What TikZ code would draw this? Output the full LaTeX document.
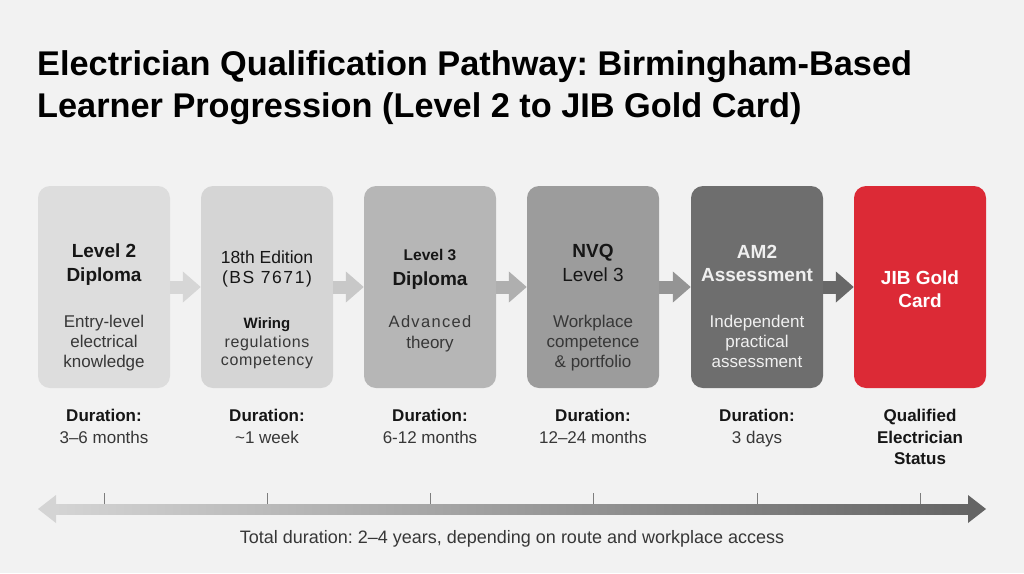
\documentclass[tikz,border=0pt]{standalone}
\usepackage{fontspec}
\setmainfont{Liberation Sans}
\usetikzlibrary{arrows.meta}
\definecolor{bg}{RGB}{242,242,242}
\definecolor{titc}{RGB}{22,22,22}
\definecolor{bodc}{RGB}{55,55,55}
\definecolor{boxa}{RGB}{221,221,221}
\definecolor{boxb}{RGB}{213,213,213}
\definecolor{boxc}{RGB}{182,182,182}
\definecolor{boxd}{RGB}{156,156,156}
\definecolor{boxe}{RGB}{110,110,110}
\definecolor{boxf}{RGB}{220,42,54}
\definecolor{arra}{RGB}{214,214,214}
\definecolor{arrb}{RGB}{200,200,200}
\definecolor{arrc}{RGB}{175,175,175}
\definecolor{arrd}{RGB}{148,148,148}
\definecolor{arre}{RGB}{104,104,104}
\definecolor{lighttxt}{RGB}{240,240,240}
\definecolor{tickc}{RGB}{125,125,125}
\definecolor{tll}{RGB}{212,212,212}
\definecolor{tlr}{RGB}{100,100,100}
\frenchspacing
\begin{document}
\begin{tikzpicture}[x=1pt,y=-1pt,
  stepbox/.style={draw=none, rounded corners=12pt, minimum width=132pt, minimum height=202pt, inner sep=0pt},
  flow/.style={line width=13pt, -{Triangle[length=18pt,width=30pt]}},
  hd/.style={anchor=base, inner sep=0pt, font=\fontsize{19}{19}\selectfont\bfseries, text=titc},
  bd/.style={anchor=base, inner sep=0pt, font=\fontsize{17}{17}\selectfont, text=bodc},
  dhd/.style={anchor=base, inner sep=0pt, font=\fontsize{17}{17}\selectfont\bfseries, text=titc},
  dbd/.style={anchor=base, inner sep=0pt, font=\fontsize{17}{17}\selectfont, text=bodc},
  ttl/.style={anchor=base west, inner sep=0pt, font=\fontsize{34.3}{34.3}\selectfont\bfseries, text=black},
  tick/.style={draw=tickc, line width=1pt}]
\useasboundingbox (0,0) rectangle (1024,573);
\fill[bg] (0,0) rectangle (1024,573);

% title
\node[ttl] (t1) at (37,75) {Electrician Qualification Pathway: Birmingham-Based};
\node[ttl] (t2) at (37,117) {Learner Progression (Level 2 to JIB Gold Card)};

% boxes
\node[stepbox, fill=boxa] (b1) at (104,287) {};
\node[stepbox, fill=boxb] (b2) at (267,287) {};
\node[stepbox, fill=boxc] (b3) at (430,287) {};
\node[stepbox, fill=boxd] (b4) at (593,287) {};
\node[stepbox, fill=boxe] (b5) at (757,287) {};
\node[stepbox, fill=boxf] (b6) at (920,287) {};

% connectors
\draw[flow, draw=arra, fill=arra] (b1) -- (b2);
\draw[flow, draw=arrb, fill=arrb] (b2) -- (b3);
\draw[flow, draw=arrc, fill=arrc] (b3) -- (b4);
\draw[flow, draw=arrd, fill=arrd] (b4) -- (b5);
\draw[flow, draw=arre, fill=arre] (b5) -- (b6);

% box 1
\node[hd] (b1h1) at (104,257) {Level 2};
\node[hd] (b1h2) at (104,281) {Diploma};
\node[bd] (b1l1) at (104,327) {Entry-level};
\node[bd] (b1l2) at (104,347) {electrical};
\node[bd] (b1l3) at (104,367) {knowledge};

% box 2
\node[hd, font=\fontsize{17.5}{17.5}\selectfont] (b2h1) at (267,263) {18th Edition};
\node[hd, font=\fontsize{17.5}{17.5}\selectfont\addfontfeature{LetterSpace=9}] (b2h2) at (267,283) {(BS 7671)};
\node[hd, font=\fontsize{15}{15}\selectfont\bfseries] (b2l1) at (267,328) {Wiring};
\node[bd, font=\fontsize{16}{16}\selectfont\addfontfeature{LetterSpace=4}] (b2l2) at (267,347) {regulations};
\node[bd, font=\fontsize{16}{16}\selectfont\addfontfeature{LetterSpace=4}] (b2l3) at (267,365) {competency};

% box 3
\node[hd, font=\fontsize{15.5}{15.5}\selectfont\bfseries] (b3h1) at (430,260) {Level 3};
\node[hd] (b3h2) at (430,285) {Diploma};
\node[bd, font=\fontsize{16.5}{16.5}\selectfont\addfontfeature{LetterSpace=8}] (b3l1) at (430,327) {Advanced};
\node[bd] (b3l2) at (430,348) {theory};

% box 4
\node[hd] (b4h1) at (593,257) {NVQ};
\node[hd, font=\fontsize{19}{19}\selectfont] (b4h2) at (593,281) {Level 3};
\node[bd] (b4l1) at (593,327) {Workplace};
\node[bd] (b4l2) at (593,347) {competence};
\node[bd] (b4l3) at (593,367) {\& portfolio};

% box 5
\node[hd, text=lighttxt] (b5h1) at (757,258) {AM2};
\node[hd, text=lighttxt] (b5h2) at (757,281) {Assessment};
\node[bd, text=lighttxt] (b5l1) at (757,327) {Independent};
\node[bd, text=lighttxt] (b5l2) at (757,347) {practical};
\node[bd, text=lighttxt] (b5l3) at (757,367) {assessment};

% box 6
\node[hd, text=white] (b6h1) at (920,284) {JIB Gold};
\node[hd, text=white] (b6h2) at (920,307) {Card};

% durations
\node[dhd] (d1a) at (104,421) {Duration:};
\node[dbd] (d1b) at (104,443) {3–6 months};
\node[dhd] (d2a) at (267,421) {Duration:};
\node[dbd] (d2b) at (267,443) {\char"007E 1 week};
\node[dhd] (d3a) at (430,421) {Duration:};
\node[dbd] (d3b) at (430,443) {6-12 months};
\node[dhd] (d4a) at (593,421) {Duration:};
\node[dbd] (d4b) at (593,443) {12–24 months};
\node[dhd] (d5a) at (757,421) {Duration:};
\node[dbd] (d5b) at (757,443) {3 days};
\node[dhd] (d6a) at (920,421) {Qualified};
\node[dhd] (d6b) at (920,443) {Electrician};
\node[dhd] (d6c) at (920,464) {Status};

% timeline
\coordinate (tl) at (38,509);
\coordinate (tr) at (986,509);
\shade[left color=tll, right color=tlr] (54,504) rectangle (970,514);
\fill[tll] (tl) -- (56,495) -- (56,523) -- cycle;
\fill[tlr] (tr) -- (968,495) -- (968,523) -- cycle;
\foreach \x in {104,267,430,593,757,920} {
  \draw[tick] (\x,493) -- (\x,504);
}
\node[anchor=base, inner sep=0pt, font=\fontsize{18}{18}\selectfont, text=bodc] (total) at (512,543) {Total duration: 2–4 years, depending on route and workplace access};
\end{tikzpicture}
\end{document}
